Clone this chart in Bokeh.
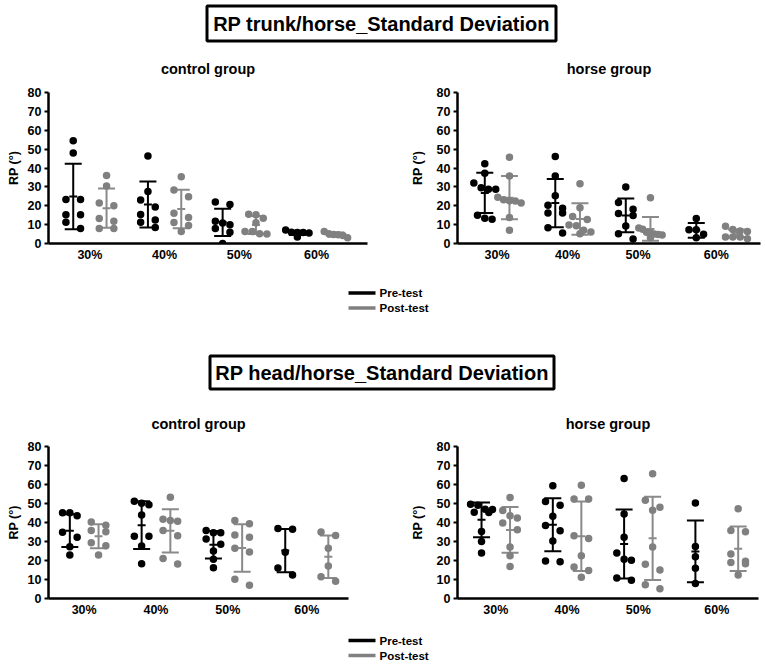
from bokeh.plotting import figure
from bokeh.layouts import column, row
from bokeh.models import Range1d, FixedTicker, CustomJSTickFormatter
from bokeh.core.properties import value
from bokeh.embed import file_html
from bokeh.resources import INLINE

FONT = "Liberation Sans"

# ---------------- data ----------------
categories = ["30%", "40%", "50%", "60%"]
series_names = ["Pre-test", "Post-test"]
section_titles = ["RP trunk/horse_Standard Deviation", "RP head/horse_Standard Deviation"]
group_titles = ["control group", "horse group"]
y_label = "RP (°)"
y_ticks = [0, 10, 20, 30, 40, 50, 60, 70, 80]

# RP trunk/horse - control group
trunk_control_pre = [
    [54.4, 48.0, 23.3, 23.3, 15.2, 15.2, 11.2, 8.0],
    [46.3, 27.5, 23.0, 19.3, 15.3, 12.5, 11.3, 8.5],
    [22.0, 20.7, 11.8, 10.9, 10.0, 8.0, 5.9, 0.0],
    [7.2, 6.0, 5.8, 5.8, 5.6, 3.4],
]
trunk_control_pre_mean = [24.9, 20.7, 11.2, 5.6]
trunk_control_pre_sd = [17.3, 12.2, 7.2, 1.1]
trunk_control_post = [
    [36.0, 30.5, 21.5, 20.0, 13.3, 11.8, 8.0, 8.0],
    [35.3, 28.3, 24.8, 16.0, 13.8, 11.1, 9.5, 6.3],
    [15.5, 15.2, 13.4, 11.0, 6.4, 6.3, 5.2, 5.0],
    [6.4, 5.2, 4.8, 4.6, 4.2, 3.0],
]
trunk_control_post_mean = [18.7, 18.3, 9.8, 4.7]
trunk_control_post_sd = [10.4, 10.2, 4.8, 1.1]

# RP trunk/horse - horse group
trunk_horse_pre = [
    [42.3, 37.2, 32.0, 29.5, 28.8, 28.8, 15.0, 13.4, 12.9],
    [46.1, 35.8, 25.3, 20.3, 18.7, 16.2, 16.1, 8.4, 5.6],
    [30.0, 21.7, 18.2, 15.9, 14.8, 9.3, 5.2, 2.4],
    [13.3, 7.3, 7.3, 4.9, 3.0],
]
trunk_horse_pre_mean = [26.8, 21.4, 14.9, 7.0]
trunk_horse_pre_sd = [10.7, 12.8, 9.0, 3.9]
trunk_horse_post = [
    [45.7, 35.7, 24.5, 23.2, 22.6, 22.5, 21.5, 13.8, 7.0],
    [31.6, 18.9, 14.3, 12.7, 9.8, 9.4, 7.0, 6.1, 5.1],
    [24.3, 8.2, 7.5, 6.0, 5.5, 5.0, 4.8, 4.5, 3.0],
    [9.1, 7.4, 6.6, 6.3, 3.5, 3.5, 3.5, 2.5],
]
trunk_horse_post_mean = [24.3, 13.0, 7.7, 5.4]
trunk_horse_post_sd = [11.4, 8.3, 6.3, 2.0]

# RP head/horse - control group
head_control_pre = [
    [45.1, 45.1, 43.5, 34.9, 32.3, 27.2, 22.9],
    [51.2, 50.1, 49.3, 44.0, 32.7, 32.7, 27.6, 18.3],
    [35.8, 34.6, 34.6, 31.3, 28.5, 25.0, 20.6, 16.2],
    [36.9, 36.5, 24.3, 16.1, 12.4],
]
head_control_pre_mean = [35.7, 38.6, 28.3, 25.2]
head_control_pre_sd = [8.6, 12.6, 7.2, 11.4]
head_control_post = [
    [40.3, 38.6, 35.8, 35.1, 29.3, 27.8, 22.9],
    [53.3, 41.7, 41.0, 40.6, 35.8, 33.0, 21.1, 18.2],
    [41.0, 39.3, 33.4, 32.3, 26.4, 24.5, 10.1, 7.0],
    [35.0, 33.2, 26.4, 17.1, 11.4, 9.1],
]
head_control_post_mean = [32.8, 35.6, 26.6, 22.0]
head_control_post_sd = [6.3, 11.4, 12.5, 11.2]

# RP head/horse - horse group
head_horse_pre = [
    [49.6, 49.1, 47.0, 46.8, 45.4, 45.2, 35.3, 30.0, 23.9],
    [59.4, 51.0, 49.1, 43.3, 38.4, 35.6, 30.2, 19.7, 19.4],
    [63.2, 44.5, 32.3, 23.9, 20.6, 20.1, 10.8, 9.6],
    [50.3, 27.4, 22.0, 15.9, 7.9],
]
head_horse_pre_mean = [41.4, 38.8, 28.7, 24.8]
head_horse_pre_sd = [9.1, 13.9, 18.2, 16.2]
head_horse_post = [
    [53.1, 46.3, 43.5, 42.4, 39.8, 36.2, 27.1, 22.5, 16.9],
    [59.6, 52.4, 52.4, 33.0, 31.6, 22.5, 16.6, 14.8, 11.2],
    [65.7, 51.7, 48.0, 46.5, 27.1, 18.0, 15.0, 7.2, 5.1],
    [47.2, 35.8, 35.1, 23.4, 19.6, 19.0, 18.3, 12.4],
]
head_horse_post_mean = [36.1, 32.8, 31.7, 26.2]
head_horse_post_sd = [12.0, 18.3, 21.9, 11.7]

# ---------------- styles / layout ----------------
PRE_COLOR = "#000000"
POST_COLOR = "#808080"
POST_LINE = "#8a8a8a"
TOTAL_W = 765
PT_SIZE = 7.5
SLOT_PX = 7.3
ROW_PX = 7.5
CAP_PX = 8.5
MEAN_PX = 4.0


def swarm_offsets(vals, gap):
    order = sorted(range(len(vals)), key=lambda j: -vals[j])
    offs = [0.0] * len(vals)
    rows = []
    for j in order:
        if rows and vals[rows[-1][0]] - vals[j] <= gap:
            rows[-1].append(j)
        else:
            rows.append([j])
    for r in rows:
        n = len(r)
        if n == 1:
            pos = [0.0]
        elif n == 2:
            pos = [-1.0, 1.0]
        else:
            s = min(1.0, 3.2 / (n - 1))
            pos = [(k - (n - 1) / 2) * s for k in range(n)]
        for j, o in zip(r, pos):
            offs[j] = o
    return offs


def make_panel(series, W, H, borders, xr, d, extra, label_standoff):
    bl, br, bt, bb = borders
    p = figure(width=W, height=H, x_range=Range1d(*xr), y_range=Range1d(0, 80),
               toolbar_location=None, output_backend="svg",
               min_border_left=bl, min_border_right=br, min_border_top=bt, min_border_bottom=bb)
    p.outline_line_color = None
    p.grid.visible = False
    frame_w = W - bl - br
    frame_h = H - bt - bb
    px_x = frame_w / (xr[1] - xr[0])
    px_y = frame_h / 80.0
    slot = SLOT_PX / px_x
    gap = ROW_PX / px_y
    cap = CAP_PX / px_x
    mhw = MEAN_PX / px_x

    pts = []
    for side, (vals, means, sds, pcolor, lcolor) in enumerate(series):
        cx = []
        for i in range(len(categories)):
            c = i + 1 + (-d if side == 0 else d + (extra if i == len(categories) - 1 else 0.0))
            cx.append(c)
        lo = [m - s for m, s in zip(means, sds)]
        hi = [m + s for m, s in zip(means, sds)]
        p.segment(x0=cx, y0=lo, x1=cx, y1=hi, line_color=lcolor, line_width=2)
        p.segment(x0=[c - cap for c in cx], y0=hi, x1=[c + cap for c in cx], y1=hi,
                  line_color=lcolor, line_width=2)
        p.segment(x0=[c - cap for c in cx], y0=lo, x1=[c + cap for c in cx], y1=lo,
                  line_color=lcolor, line_width=2)
        p.segment(x0=[c - mhw for c in cx], y0=means, x1=[c + mhw for c in cx], y1=means,
                  line_color=lcolor, line_width=2)
        xs, ys = [], []
        for i, v in enumerate(vals):
            offs = swarm_offsets(v, gap)
            xs += [cx[i] + o * slot for o in offs]
            ys += list(v)
        pts.append((xs, ys, pcolor))
    for xs, ys, col in pts:
        p.scatter(x=xs, y=ys, size=PT_SIZE, fill_color=col, line_color=None)

    # axes
    yax = p.yaxis[0]
    yax.ticker = FixedTicker(ticks=y_ticks)
    yax.axis_label = y_label
    yax.axis_label_text_font = FONT
    yax.axis_label_text_font_style = "bold"
    yax.axis_label_text_font_size = "12.5px"
    yax.axis_label_text_color = "black"
    yax.axis_label_standoff = label_standoff
    yax.major_label_text_font = FONT
    yax.major_label_text_font_style = "bold"
    yax.major_label_text_font_size = "12.5px"
    yax.major_label_text_color = "black"
    yax.major_label_standoff = 3
    yax.axis_line_width = 2.5
    yax.axis_line_color = "black"
    yax.major_tick_line_width = 2
    yax.major_tick_line_color = "black"
    yax.major_tick_in = 0
    yax.major_tick_out = 4
    yax.minor_tick_line_color = None

    xax = p.xaxis[0]
    tick_pos = [float(i + 1) for i in range(len(categories))]
    tick_pos[-1] += extra / 2.0
    xax.ticker = FixedTicker(ticks=tick_pos)
    xax.formatter = CustomJSTickFormatter(args=dict(labels=categories), code="return labels[index];")
    xax.major_label_text_font = FONT
    xax.major_label_text_font_style = "bold"
    xax.major_label_text_font_size = "12.5px"
    xax.major_label_text_color = "black"
    xax.major_label_standoff = 4
    xax.axis_line_width = 2.5
    xax.axis_line_color = "black"
    xax.major_tick_line_color = None
    xax.major_tick_in = 0
    xax.major_tick_out = 0
    xax.minor_tick_line_color = None
    return p


def strip(h):
    s = figure(width=TOTAL_W, height=h, x_range=Range1d(0, TOTAL_W), y_range=Range1d(h, 0),
               toolbar_location=None, output_backend="svg", min_border=0,
               x_axis_location=None, y_axis_location=None, outline_line_color=None)
    s.grid.visible = False
    return s


def add_text(s, x, y, txt, size, align="center"):
    s.text(x=[x], y=[y], text=[txt], text_font=value(FONT), text_font_style="bold",
           text_font_size=size, text_align=align, text_baseline="middle", text_color="black")


def add_title_box(s, x0, x1, y0, y1, txt):
    s.quad(left=[x0], right=[x1], top=[y0], bottom=[y1], fill_color=None,
           line_color="black", line_width=3)
    add_text(s, (x0 + x1) / 2, (y0 + y1) / 2 + 0.5, txt, "20px")


def add_legend(s, y_pre, y_post):
    for yy, col, name in [(y_pre, PRE_COLOR, series_names[0]), (y_post, POST_COLOR, series_names[1])]:
        s.segment(x0=[348], y0=[yy], x1=[375], y1=[yy], line_color=col, line_width=3.5)
        add_text(s, 379, yy, name, "11.5px", align="left")


# panel geometry: width, height, (left, right, top, bottom borders), x range, half gap, extra for 60%
G1 = dict(W=405, H=200, borders=(48, 38, 12, 28), xr=(0.446, 4.716), d=0.223, extra=0.07, label_standoff=4)
G2 = dict(W=360, H=200, borders=(52, 5, 11, 37), xr=(0.438, 4.736), d=0.175, extra=0.22, label_standoff=9)
G3 = dict(W=405, H=187, borders=(48, 57, 12, 22), xr=(0.503, 4.681), d=0.2, extra=0.2, label_standoff=4)
G4 = dict(W=360, H=187, borders=(52, 7, 13, 22), xr=(0.463, 4.685), d=0.2, extra=0.2, label_standoff=9)


def frame_center(g, x_off):
    bl, br, _, _ = g["borders"]
    return x_off + bl + (g["W"] - bl - br) / 2.0


p1 = make_panel([(trunk_control_pre, trunk_control_pre_mean, trunk_control_pre_sd, PRE_COLOR, PRE_COLOR),
                 (trunk_control_post, trunk_control_post_mean, trunk_control_post_sd, POST_COLOR, POST_LINE)], **G1)
p2 = make_panel([(trunk_horse_pre, trunk_horse_pre_mean, trunk_horse_pre_sd, PRE_COLOR, PRE_COLOR),
                 (trunk_horse_post, trunk_horse_post_mean, trunk_horse_post_sd, POST_COLOR, POST_LINE)], **G2)
p3 = make_panel([(head_control_pre, head_control_pre_mean, head_control_pre_sd, PRE_COLOR, PRE_COLOR),
                 (head_control_post, head_control_post_mean, head_control_post_sd, POST_COLOR, POST_LINE)], **G3)
p4 = make_panel([(head_horse_pre, head_horse_pre_mean, head_horse_pre_sd, PRE_COLOR, PRE_COLOR),
                 (head_horse_post, head_horse_post_mean, head_horse_post_sd, POST_COLOR, POST_LINE)], **G4)

# strip above first row
sA = strip(80)
add_title_box(sA, 206.5, 555.5, 5.5, 40.5, section_titles[0])
add_text(sA, frame_center(G1, 0), 68, group_titles[0], "14.5px")
add_text(sA, frame_center(G2, G1["W"]), 68, group_titles[1], "14.5px")

# strip between rows
sB = strip(153)
add_legend(sB, 12.5, 27.5)
add_title_box(sB, 209.5, 553.5, 75.5, 108.5, section_titles[1])
add_text(sB, frame_center(G3, 0), 143, group_titles[0], "14.5px")
add_text(sB, frame_center(G4, G3["W"]), 143, group_titles[1], "14.5px")

# bottom strip
sC = strip(44)
add_legend(sC, 20, 35)

layout = column(sA, row(p1, p2), sB, row(p3, p4), sC)

open("out.html", "w").write(file_html(layout, INLINE))
